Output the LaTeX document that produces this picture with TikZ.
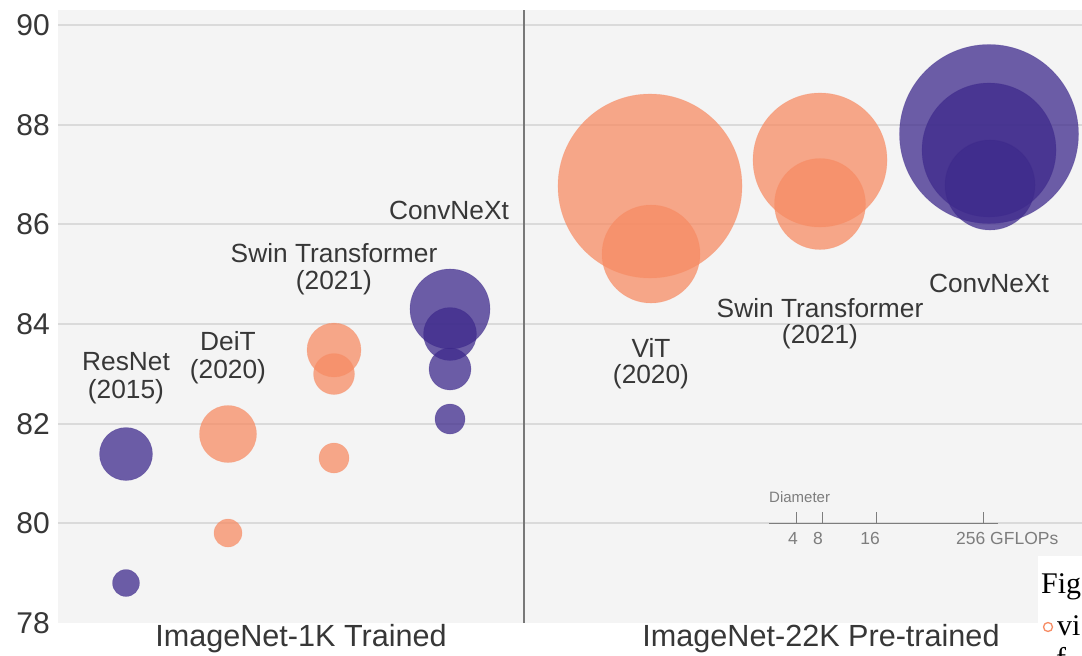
\documentclass[tikz,border=0pt]{standalone}
\usepackage{fontspec}
\setmainfont{Liberation Sans}
\newfontfamily\capfont{Liberation Serif}
\definecolor{bgc}{RGB}{244,244,244}
\definecolor{gridc}{RGB}{218,218,218}
\definecolor{divc}{RGB}{120,120,120}
\definecolor{txtc}{RGB}{55,55,55}
\definecolor{legc}{RGB}{125,125,125}
\definecolor{orc}{RGB}{247,140,100}
\definecolor{puc}{RGB}{62,42,140}
\begin{document}
\begin{tikzpicture}[x=1pt,y=-1pt,
  orb/.style={fill=orc,fill opacity=0.75,draw=orc,draw opacity=0.3,line width=0.6pt},
  pub/.style={fill=puc,fill opacity=0.75,draw=puc,draw opacity=0.3,line width=0.6pt},
  axl/.style={anchor=east,text=txtc,font=\fontsize{30}{32}\selectfont,inner sep=0pt},
  grpl/.style={text=txtc,font=\fontsize{30.6}{32}\selectfont,inner sep=0pt},
  lab/.style={text=txtc,font=\fontsize{26.3}{30}\selectfont,inner sep=0pt,align=center},
  legl/.style={text=legc,font=\fontsize{17.5}{19}\selectfont,inner sep=0pt},
  gridl/.style={draw=gridc,line width=1.6pt}]
\useasboundingbox (0,0) rectangle (1082,656);
\fill[white] (0,0) rectangle (1082,656);
\fill[bgc] (58,10) rectangle (1082,623);
% grid lines
\foreach \yy in {25,125,224,324,424,523} \draw[gridl] (58,\yy) -- (1082,\yy);
% axis labels
\node[axl] (y90) at (50,25) {90};
\node[axl] (y88) at (50,125) {88};
\node[axl] (y86) at (50,224) {86};
\node[axl] (y84) at (50,324) {84};
\node[axl] (y82) at (50,424) {82};
\node[axl] (y80) at (50,523) {80};
\node[axl] (y78) at (50,623) {78};
% divider
\coordinate (dtop) at (524,10);
\coordinate (dbot) at (524,623);
\draw[divc,line width=1.3pt] (dtop) -- (dbot);
% left panel bubbles
\fill[pub] (126,454) circle (26.5);
\fill[pub] (126,583) circle (13.5);
\fill[orb] (228,434) circle (28.5);
\fill[orb] (228,533) circle (14);
\fill[orb] (334,350) circle (27);
\fill[orb] (334,374) circle (20.5);
\fill[orb] (334,458) circle (15);
\fill[pub] (450,309) circle (40);
\fill[pub] (450,334) circle (26.5);
\fill[pub] (450,369) circle (21);
\fill[pub] (450,419) circle (15);
% right panel bubbles
\fill[orb] (650,186) circle (92);
\fill[orb] (651,254) circle (49);
\fill[orb] (820,160) circle (67);
\fill[orb] (820,204) circle (45.5);
\fill[pub] (989,134) circle (89.5);
\fill[pub] (989,150) circle (67);
\fill[pub] (990,185) circle (45);
% labels
\node[lab] (resnet) at (126,362) {ResNet};
\node[lab] (resnety) at (126,392) {(2015)};
\node[lab] (deit) at (228,341) {DeiT};
\node[lab] (deity) at (228,372) {(2020)};
\node[lab] (swinl) at (334,253) {Swin Transformer};
\node[lab] (swinly) at (334,283) {(2021)};
\node[lab] (convl) at (449,210) {ConvNeXt};
\node[lab] (vit) at (651,348) {ViT};
\node[lab] (vity) at (651,377) {(2020)};
\node[lab] (swinr) at (820,308) {Swin Transformer};
\node[lab] (swinry) at (820,337) {(2021)};
\node[lab] (convr) at (989,283) {ConvNeXt};
% group labels
\node[grpl] (g1k) at (301,639) {ImageNet-1K Trained};
\node[grpl] (g22k) at (821,639) {ImageNet-22K Pre-trained};
% diameter legend
\node[legl,anchor=west,font=\fontsize{15}{17}\selectfont] (diam) at (769,497) {Diameter};
\coordinate (ls) at (769,523);
\coordinate (le) at (998,523);
\draw[legc,line width=0.9pt] (ls) -- (le);
\foreach \xx in {796,822,876,983} \draw[legc,line width=0.9pt] (\xx,523) -- (\xx,512);
\node[legl] (l4) at (793,538) {4};
\node[legl] (l8) at (818,538) {8};
\node[legl] (l16) at (870,538) {16};
\node[legl,anchor=west] (l256) at (956,538) {256 GFLOPs};
% caption fragment
\begin{scope}
\clip (0,0) rectangle (1082,656);
\fill[white] (1038,556) rectangle (1082,656);
\node[anchor=base west,inner sep=0pt,font=\capfont\fontsize{30}{32}\selectfont] (fig) at (1041,593) {Fig};
\draw[orc,line width=1.3pt] (1048,627) circle (4.5);
\node[anchor=base west,inner sep=0pt,font=\capfont\fontsize{30}{32}\selectfont] (vi) at (1057,635) {vi};
\node[anchor=base west,inner sep=0pt,font=\capfont\fontsize{30}{32}\selectfont] (ff) at (1056,668) {f};
\end{scope}
\end{tikzpicture}
\end{document}
